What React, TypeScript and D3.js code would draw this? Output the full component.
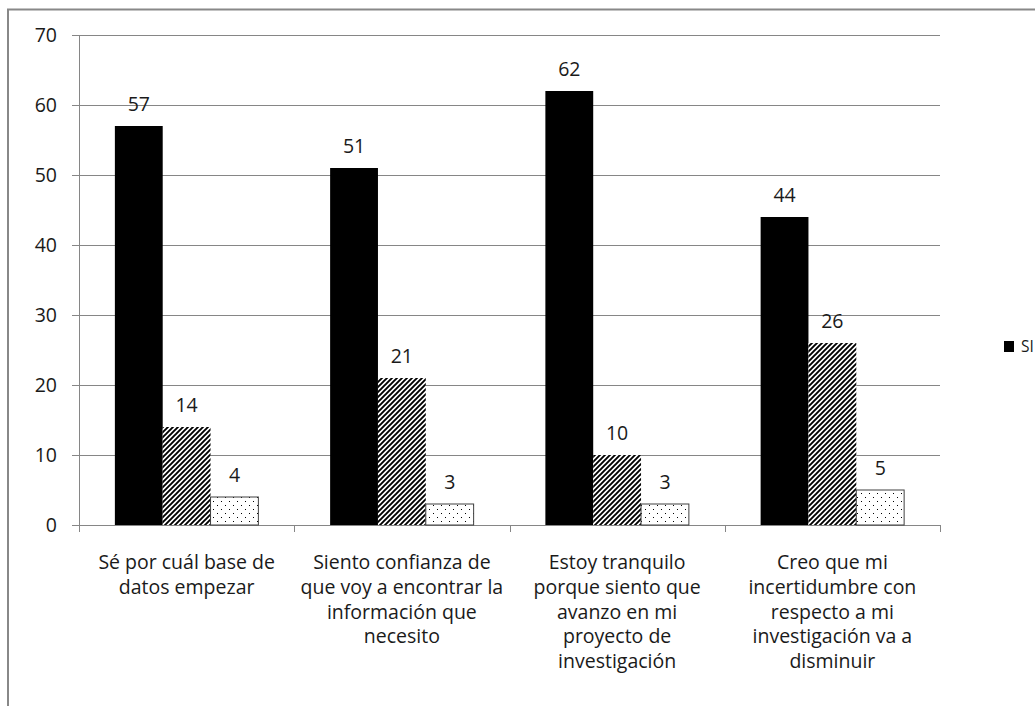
import React from "react";
import * as d3 from "d3";

const categories: string[][] = [
  ["Sé por cuál base de", "datos empezar"],
  ["Siento confianza de", "que voy a encontrar la", "información que", "necesito"],
  ["Estoy tranquilo", "porque siento que", "avanzo en mi", "proyecto de", "investigación"],
  ["Creo que mi", "incertidumbre con", "respecto a mi", "investigación va a", "disminuir"],
];
const seriesNames = ["SI", "NO", "NO SABE"];
const siValues = [57, 51, 62, 44];
const noValues = [14, 21, 10, 26];
const nsValues = [4, 3, 3, 5];
const yTicks = [0, 10, 20, 30, 40, 50, 60, 70];

const W = 1035;
const H = 706;
const plot = { left: 79, right: 940, top: 35, bottom: 525 };
const FONT = "'Open Sans', sans-serif";
const GRID = "#868686";
const FS = 19.5;

export default function App() {
  const x0 = d3
    .scaleBand<number>()
    .domain(d3.range(categories.length))
    .range([plot.left, plot.right])
    .paddingInner(0)
    .paddingOuter(0);
  const x1 = d3
    .scaleBand<number>()
    .domain(d3.range(3))
    .range([0, x0.bandwidth()])
    .paddingOuter(0.75)
    .paddingInner(0);
  const y = d3.scaleLinear().domain([0, 70]).range([plot.bottom, plot.top]);

  const series = [siValues, noValues, nsValues];
  const fills = ["#000000", "url(#hatch)", "url(#dots)"];

  const boundaries = d3.range(categories.length + 1).map((i) =>
    i < categories.length ? (x0(i) as number) : plot.right
  );

  return (
    <svg
      width={W}
      height={H}
      style={{ position: "absolute", left: 0, top: 0, display: "block" }}
      fontFamily={FONT}
    >
      <defs>
        <pattern id="hatch" patternUnits="userSpaceOnUse" width={5} height={5}>
          <rect width={5} height={5} fill="#fff" />
          <path
            d="M-1,6 L6,-1 M-1,1 L1,-1 M4,6 L6,4"
            stroke="#000"
            strokeWidth={1.9}
          />
        </pattern>
        <pattern id="dots" patternUnits="userSpaceOnUse" width={8} height={8}>
          <rect width={8} height={8} fill="#fff" />
          <rect x={1} y={1} width={1} height={1} fill="#000" />
          <rect x={5} y={5} width={1} height={1} fill="#000" />
        </pattern>
      </defs>
      <rect x={0} y={0} width={W} height={H} fill="#fff" />
      {/* outer chart border */}
      <rect x={8} y={9.5} width={W + 20} height={H + 20} fill="none" stroke="#888" strokeWidth={2} />

      {/* gridlines */}
      {yTicks.map((t) => (
        <line
          key={t}
          x1={plot.left - 7}
          x2={plot.right}
          y1={Math.round(y(t)) + 0.5}
          y2={Math.round(y(t)) + 0.5}
          stroke={GRID}
          strokeWidth={1}
        />
      ))}
      {/* y axis line */}
      <line
        x1={plot.left + 0.5}
        x2={plot.left + 0.5}
        y1={plot.top}
        y2={plot.bottom}
        stroke={GRID}
      />
      {/* x ticks */}
      {boundaries.map((bx, i) => (
        <line
          key={i}
          x1={Math.round(bx) + 0.5}
          x2={Math.round(bx) + 0.5}
          y1={plot.bottom}
          y2={plot.bottom + 7}
          stroke={GRID}
        />
      ))}
      {/* y tick labels */}
      {yTicks.map((t) => (
        <text
          key={t}
          x={57}
          y={y(t)}
          dy="0.36em"
          textAnchor="end"
          fontSize={FS}
          fill="#1a1a1a"
        >
          {t}
        </text>
      ))}

      {/* bars */}
      {categories.map((_, ci) =>
        series.map((vals, si) => {
          const bx = (x0(ci) as number) + (x1(si) as number);
          const by = y(vals[ci]);
          return (
            <g key={`${ci}-${si}`}>
              <rect
                x={bx}
                y={by}
                width={x1.bandwidth()}
                height={plot.bottom - by}
                fill={fills[si]}
                stroke={si === 2 ? "#404040" : "none"}
                strokeWidth={1}
              />
              <text
                x={bx + x1.bandwidth() / 2}
                y={by - 15}
                textAnchor="middle"
                fontSize={FS}
                fill="#1a1a1a"
              >
                {vals[ci]}
              </text>
            </g>
          );
        })
      )}

      {/* category labels */}
      {categories.map((lines, ci) => (
        <text
          key={ci}
          x={(x0(ci) as number) + x0.bandwidth() / 2}
          y={569}
          textAnchor="middle"
          fontSize={FS}
          fill="#1a1a1a"
        >
          {lines.map((l, li) => (
            <tspan key={li} x={(x0(ci) as number) + x0.bandwidth() / 2} dy={li === 0 ? 0 : 24.8}>
              {l}
            </tspan>
          ))}
        </text>
      ))}

      {/* legend */}
      {seriesNames.map((name, i) => (
        <g key={name} transform={`translate(${1004 + i * 70},341)`}>
          <rect x={0} y={0} width={10} height={11} fill={fills[i]} stroke={i === 2 ? "#404040" : "none"} />
          <text x={17} y={11} fontSize={15.5} fill="#1a1a1a">
            {name}
          </text>
        </g>
      ))}
    </svg>
  );
}
